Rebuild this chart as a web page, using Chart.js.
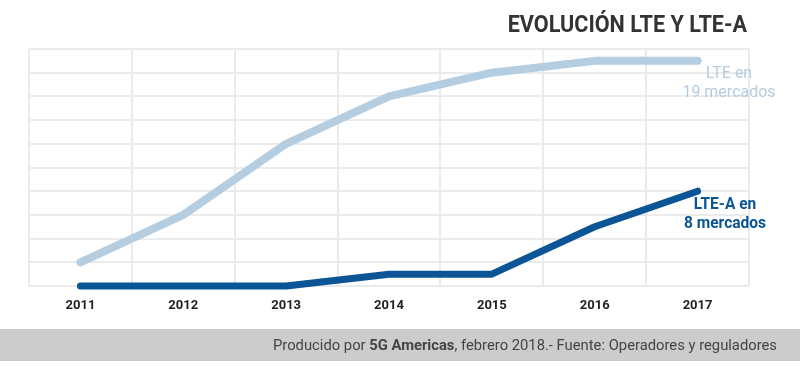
<!DOCTYPE html>
<html><head><meta charset="utf-8">
<script src="https://cdn.jsdelivr.net/npm/chart.js@4"></script>
<style>html,body{margin:0;padding:0;background:#fff;}#wrap{width:800px;height:367px;position:relative;}</style>
</head><body><div id="wrap"><canvas id="c" width="800" height="367"></canvas></div>
<script>
const years = ['2011','2012','2013','2014','2015','2016','2017'];
const lte = [2, 6, 12, 16, 18, 19, 19];
const lteA = [0, 0, 0, 1, 1, 5, 8];
const titleText = 'EVOLUCIÓN LTE Y LTE-A';
const lteLabel = ['LTE en', '19 mercados'];
const lteALabel = ['LTE-A en', '8 mercados'];
const footerParts = [['Producido por ', false], ['5G Americas', true], [', febrero 2018.- Fuente: Operadores y reguladores', false]];

const LIGHT = '#b4cde1', DARK = '#0b5597';

function cText(ctx, txt, x, y, sx, align) {
  ctx.save(); ctx.translate(x, y); ctx.scale(sx, 1); ctx.textAlign = align; ctx.fillText(txt, 0, 0); ctx.restore();
}

const deco = {
  id: 'deco',
  beforeDraw(chart) {
    const ctx = chart.ctx;
    ctx.save();
    ctx.fillStyle = '#cccccc';
    ctx.fillRect(0, 329, 800, 32);
    ctx.restore();
  },
  afterDraw(chart) {
    const ctx = chart.ctx;
    ctx.save();
    ctx.textBaseline = 'middle';
    // title
    ctx.fillStyle = '#333333';
    ctx.font = 'bold 24px Roboto';
    cText(ctx, titleText, 747, 26, 0.9, 'right');
    // LTE label
    ctx.fillStyle = LIGHT;
    ctx.font = '16px Roboto';
    cText(ctx, lteLabel[0], 729, 74, 1.0, 'center');
    cText(ctx, lteLabel[1], 729, 93, 1.0, 'center');
    // LTE-A label
    ctx.fillStyle = DARK;
    ctx.font = 'bold 16px Roboto';
    cText(ctx, lteALabel[0], 725, 205, 0.97, 'center');
    cText(ctx, lteALabel[1], 725, 224, 0.97, 'center');
    // footer
    const sx = 0.985;
    let total = 0;
    const widths = footerParts.map(([t, b]) => { ctx.font = (b ? 'bold ' : '') + '15px Roboto'; const w = ctx.measureText(t).width * sx; total += w; return w; });
    let x = 777 - total;
    ctx.fillStyle = '#444444';
    footerParts.forEach(([t, b], i) => { ctx.font = (b ? 'bold ' : '') + '15px Roboto'; cText(ctx, t, x, 346, sx, 'left'); x += widths[i]; });
    ctx.restore();
  }
};

new Chart(document.getElementById('c'), {
  type: 'line',
  data: {
    labels: years,
    datasets: [
      { data: lte, borderColor: LIGHT, borderWidth: 8, borderCapStyle: 'round', borderJoinStyle: 'round', pointRadius: 0, tension: 0, clip: false },
      { data: lteA, borderColor: DARK, borderWidth: 7, borderCapStyle: 'round', borderJoinStyle: 'round', pointRadius: 0, tension: 0, clip: false }
    ]
  },
  options: {
    responsive: false, animation: false,
    layout: { padding: { left: 29, right: 51, top: 49, bottom: 0 } },
    plugins: { legend: { display: false }, title: { display: false }, tooltip: { enabled: false } },
    scales: {
      x: {
        offset: true,
        grid: { offset: true, color: '#ebebeb', lineWidth: 2, drawTicks: false },
        border: { display: false },
        ticks: { color: '#222222', font: { family: 'Roboto', weight: 'bold', size: 13 }, padding: 12, maxRotation: 0 },
        afterFit(s) { s.height = 81; }
      },
      y: {
        min: 0, max: 20,
        grid: { color: '#ebebeb', lineWidth: 2, drawTicks: false },
        border: { display: false },
        ticks: { display: false, stepSize: 2 },
        afterFit(s) { s.width = 0; }
      }
    }
  },
  plugins: [deco]
});
</script></body></html>
